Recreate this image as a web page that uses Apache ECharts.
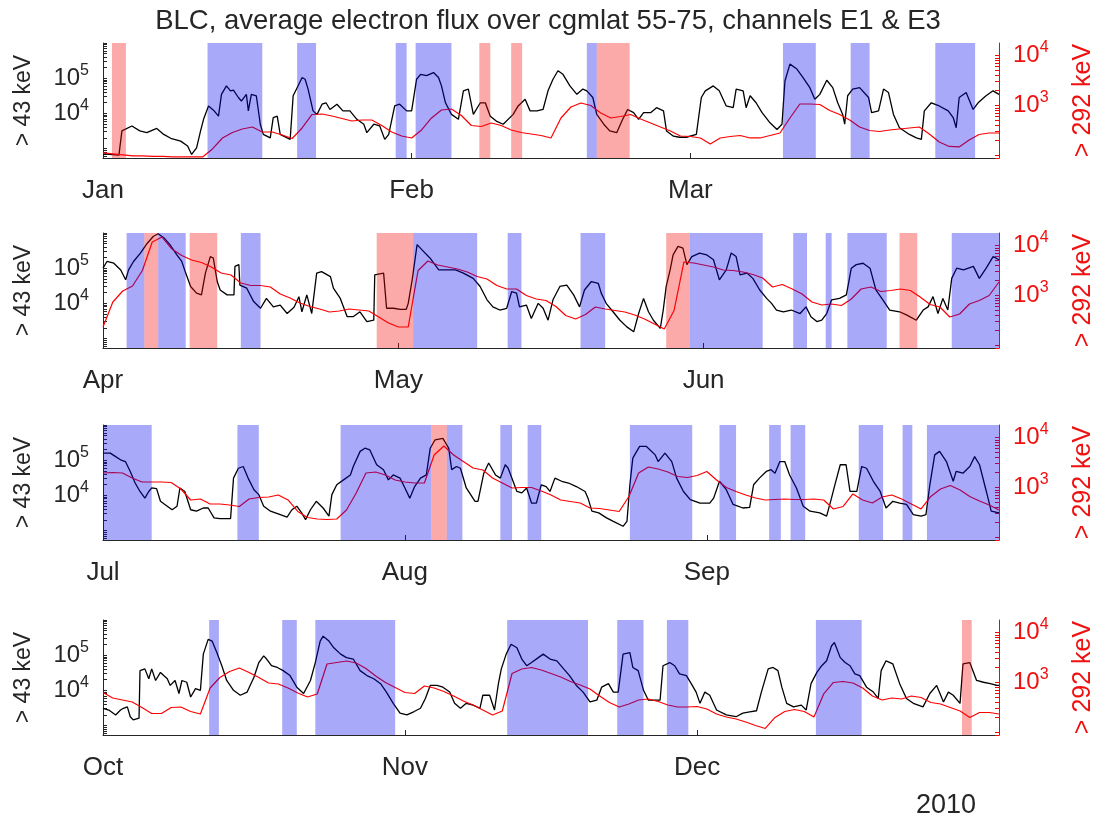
<!DOCTYPE html>
<html>
<head>
<meta charset="utf-8">
<script src="https://cdn.jsdelivr.net/npm/echarts@6/dist/echarts.min.js"></script>
<style>
html, body { margin: 0; padding: 0; background: #fff; }
#chart { width: 1096px; height: 820px; }
</style>
</head>
<body>
<div id="chart"></div>
<script>
// months (day of year 2010, Jan 1 = 0)
var monthNames = ['Jan', 'Feb', 'Mar', 'Apr', 'May', 'Jun', 'Jul', 'Aug', 'Sep', 'Oct', 'Nov', 'Dec'];
var monthStarts = [0, 31, 59, 90, 120, 151, 181, 212, 243, 273, 304, 334];
var quarterStarts = [0, 90, 181, 273];
var quarterEnds = [90, 181, 273, 365];

// E1 (> 43 keV, black, left axis): [day from quarter start, log10 flux]
var q1E1 = [[0, 2.85], [1.6, 2.81], [1.9, 3.50], [2.9, 3.64], [3.7, 3.50], [4.4, 3.45], [5.4, 3.57], [6.1, 3.40], [6.8, 3.29],
  [7.8, 3.21], [8.5, 3.07], [8.9, 2.83], [9.4, 3.02], [9.8, 3.50], [10.1, 3.83], [10.6, 4.21], [11.1, 4.09], [11.6, 3.92],
  [11.9, 4.54], [12.4, 4.78], [12.8, 4.64], [13.1, 4.66], [13.6, 4.45], [13.9, 4.35], [14.4, 4.54], [14.6, 4.07], [14.9, 4.54],
  [15.4, 4.50], [15.8, 3.69], [16.1, 3.40], [16.8, 3.30], [17.1, 3.88], [17.5, 3.92], [17.8, 3.40], [18.5, 3.30], [18.8, 3.26],
  [19.1, 4.50], [19.5, 4.73], [20.0, 5.02], [20.3, 4.97], [20.6, 4.69], [21.1, 4.07], [21.5, 3.97], [22.0, 4.26], [22.4, 4.30],
  [22.8, 4.11], [23.5, 4.26], [24.1, 4.07], [24.8, 4.07], [25.5, 3.83], [26.2, 3.69], [26.5, 3.45], [27.2, 3.69], [27.8, 3.64],
  [28.3, 3.26], [28.7, 3.40], [29.3, 4.21], [29.8, 4.26], [30.5, 4.07], [31.0, 4.07], [31.5, 4.97], [31.9, 5.11], [32.5, 5.07],
  [33.2, 5.16], [33.7, 5.02], [34.0, 4.78], [34.4, 4.30], [35.0, 3.97], [35.7, 3.83], [36.2, 4.64], [36.7, 4.69], [37.2, 3.97],
  [37.9, 4.30], [38.4, 4.30], [38.9, 3.92], [39.5, 3.78], [40.2, 3.69], [41.2, 3.97], [41.7, 4.21], [42.4, 4.40], [42.9, 4.07],
  [43.6, 4.07], [44.2, 4.11], [44.7, 4.64], [45.2, 4.97], [45.7, 5.21], [46.2, 5.11], [46.9, 4.78], [47.6, 4.54], [48.2, 4.69],
  [48.6, 4.64], [49.2, 4.45], [49.6, 3.97], [50.3, 3.69], [50.9, 3.50], [51.6, 3.45], [52.2, 3.83], [52.7, 4.11], [53.3, 4.02],
  [53.8, 3.83], [54.3, 4.02], [55.0, 4.02], [55.6, 4.16], [56.3, 4.07], [56.6, 3.50], [57.3, 3.35], [57.9, 3.32], [58.6, 3.32],
  [59.6, 3.40], [60.1, 4.45], [60.5, 4.64], [61.3, 4.78], [61.9, 4.64], [62.6, 4.21], [63.3, 4.16], [63.6, 4.69], [64.3, 4.64],
  [64.6, 4.16], [65.0, 4.50], [65.6, 4.30], [66.2, 4.02], [67.0, 3.73], [67.7, 3.54], [68.2, 3.69], [68.5, 4.92], [69.0, 5.40],
  [69.7, 5.26], [70.3, 5.02], [71.0, 4.73], [71.5, 4.40], [72.0, 4.54], [72.7, 4.94], [73.3, 4.73], [73.8, 4.30], [74.3, 3.97],
  [74.5, 3.69], [74.8, 4.50], [75.3, 4.69], [76.0, 4.73], [76.9, 4.45], [77.2, 4.02], [77.9, 4.07], [78.4, 4.69], [78.9, 4.59],
  [79.4, 3.97], [80.0, 3.59], [81.0, 3.40], [81.7, 3.30], [82.2, 3.26], [82.5, 4.07], [83.2, 4.30], [84.0, 4.21], [84.9, 4.07],
  [85.4, 3.88], [85.7, 3.59], [86.0, 4.45], [86.7, 4.59], [87.4, 4.11], [87.9, 4.30], [88.7, 4.50], [89.4, 4.64], [90.0, 4.54]];
var q2E1 = [[0, 5.00], [0.4, 5.19], [1.1, 5.14], [1.8, 4.95], [2.3, 4.67], [2.6, 4.95], [3.1, 5.19], [3.8, 5.43], [4.5, 5.71],
  [5.1, 5.90], [5.6, 5.98], [6.2, 5.86], [6.8, 5.67], [7.5, 5.38], [8.0, 5.19], [8.4, 4.86], [8.9, 4.48], [9.5, 4.29],
  [10.0, 4.24], [10.4, 4.86], [10.9, 5.33], [11.2, 5.29], [11.6, 4.62], [11.9, 4.38], [12.6, 4.24], [13.3, 4.24], [13.4, 5.05],
  [13.8, 5.10], [13.9, 4.52], [14.6, 4.43], [15.3, 4.05], [16.0, 3.86], [16.6, 4.14], [17.3, 3.90], [18.0, 3.95], [18.7, 3.71],
  [19.4, 3.89], [19.9, 4.19], [20.2, 3.76], [20.7, 4.24], [21.2, 3.71], [21.7, 4.86], [22.2, 4.90], [23.1, 4.76], [23.4, 4.43],
  [24.1, 4.14], [24.8, 3.62], [25.4, 3.62], [26.1, 3.76], [26.8, 3.48], [27.5, 3.52], [27.6, 4.81], [28.5, 4.86], [28.8, 3.86],
  [29.5, 3.86], [30.2, 3.83], [30.8, 3.83], [31.0, 4.00], [31.4, 4.67], [31.9, 5.67], [32.4, 5.52], [33.2, 5.29], [34.1, 4.95],
  [34.9, 4.95], [35.8, 4.95], [36.6, 4.86], [37.6, 4.71], [38.3, 4.48], [39.0, 4.10], [39.6, 3.90], [40.3, 3.81], [41.0, 3.86],
  [41.5, 4.33], [42.0, 4.29], [42.3, 3.90], [43.0, 3.95], [43.5, 3.57], [44.2, 4.00], [44.7, 3.86], [45.2, 3.52], [45.7, 4.10],
  [46.4, 4.48], [47.1, 4.52], [47.8, 4.24], [48.4, 3.90], [48.9, 4.38], [49.6, 4.62], [50.3, 4.57], [50.6, 4.29], [51.1, 4.00],
  [51.8, 3.76], [52.5, 3.52], [53.2, 3.33], [53.9, 3.19], [54.4, 3.71], [54.9, 4.14], [55.4, 3.76], [55.9, 3.52], [56.6, 3.29],
  [56.9, 3.81], [57.2, 4.48], [57.6, 4.95], [57.9, 5.38], [58.4, 5.62], [58.9, 5.57], [59.3, 5.10], [59.8, 5.33], [60.6, 5.43],
  [61.3, 5.38], [62.0, 5.24], [62.6, 4.67], [63.3, 4.95], [63.8, 5.43], [64.3, 5.33], [64.7, 4.81], [65.4, 4.86], [66.0, 4.71],
  [66.7, 4.38], [67.4, 4.14], [67.9, 4.00], [68.4, 3.81], [69.1, 3.76], [69.9, 3.81], [70.8, 3.71], [71.4, 3.90], [71.9, 3.62],
  [72.5, 3.48], [73.0, 3.52], [73.5, 3.71], [74.0, 4.10], [74.8, 4.14], [75.5, 4.24], [76.0, 5.00], [76.5, 5.10], [77.2, 5.14],
  [77.9, 5.00], [78.5, 4.38], [79.2, 4.10], [79.9, 3.81], [80.9, 3.76], [81.6, 3.67], [82.6, 3.52], [83.3, 3.81], [83.8, 3.90],
  [84.3, 4.19], [84.8, 3.71], [85.3, 4.14], [85.8, 3.81], [86.2, 4.71], [86.7, 5.00], [87.4, 4.95], [88.4, 5.05], [89.0, 4.71],
  [89.7, 5.00], [90.4, 5.33], [91.0, 5.24]];
var q3E1 = [[0, 5.20], [0.75, 5.20], [1.3, 5.10], [1.8, 5.01], [2.3, 4.96], [2.8, 4.68], [3.3, 4.35], [3.8, 4.11], [4.3, 3.92],
  [4.7, 4.11], [5.0, 4.21], [5.5, 4.19], [5.9, 3.83], [6.6, 3.69], [7.1, 3.59], [7.6, 3.69], [7.9, 4.21], [8.4, 4.11],
  [9.0, 3.59], [9.6, 3.55], [10.3, 3.64], [10.8, 3.64], [11.4, 3.36], [12.0, 3.34], [13.1, 3.34], [13.4, 4.49], [13.9, 4.77],
  [14.4, 4.82], [14.9, 4.49], [15.5, 4.16], [16.0, 4.02], [16.5, 3.69], [17.2, 3.55], [18.2, 3.45], [18.9, 3.38], [19.4, 3.59],
  [19.9, 3.69], [20.4, 3.50], [20.8, 3.31], [21.3, 3.59], [21.9, 3.83], [22.6, 3.64], [23.2, 3.41], [23.5, 4.02], [24.0, 4.30],
  [24.7, 4.44], [25.4, 4.58], [25.7, 4.82], [26.4, 5.25], [26.9, 5.34], [27.4, 5.29], [28.1, 4.87], [28.8, 4.73], [29.3, 4.44],
  [29.8, 4.58], [30.5, 4.49], [31.0, 4.21], [31.5, 3.92], [32.0, 4.25], [32.6, 4.49], [33.2, 4.58], [33.6, 5.34], [34.1, 5.58],
  [34.9, 5.62], [35.5, 5.34], [35.8, 4.73], [36.3, 4.82], [36.7, 4.77], [37.3, 4.21], [38.2, 3.83], [38.5, 3.83], [39.1, 4.63],
  [39.6, 4.92], [40.3, 4.58], [40.8, 4.49], [41.3, 4.87], [41.6, 4.77], [42.5, 4.11], [43.0, 4.07], [43.5, 4.21], [44.0, 3.78],
  [44.5, 3.78], [45.0, 4.30], [45.5, 4.25], [45.9, 4.11], [46.4, 4.49], [47.1, 4.40], [47.8, 4.35], [48.6, 4.25], [49.5, 4.11],
  [49.8, 3.92], [50.2, 3.55], [50.9, 3.50], [51.7, 3.36], [52.4, 3.26], [53.4, 3.12], [53.8, 3.26], [54.1, 4.30], [54.4, 5.06],
  [55.1, 5.39], [55.8, 5.39], [56.7, 5.15], [57.0, 4.96], [57.7, 5.20], [58.4, 4.96], [58.9, 4.49], [59.6, 4.11], [60.3, 3.88],
  [61.3, 3.78], [62.3, 3.78], [62.7, 3.92], [63.3, 4.40], [64.0, 4.16], [64.7, 3.74], [65.7, 3.64], [66.4, 3.66], [66.8, 4.30],
  [67.4, 4.49], [68.1, 4.68], [68.6, 4.73], [69.0, 4.63], [69.5, 4.96], [70.0, 4.96], [70.5, 4.58], [71.2, 4.21], [71.9, 3.69],
  [72.6, 3.55], [73.6, 3.50], [74.3, 3.41], [74.8, 3.92], [75.1, 4.25], [75.7, 4.87], [76.3, 4.87], [76.7, 4.11], [77.4, 4.11],
  [77.9, 4.82], [78.4, 4.77], [79.1, 4.40], [79.8, 4.11], [80.4, 3.64], [81.1, 3.83], [81.8, 3.78], [82.5, 3.74], [83.2, 3.45],
  [84.0, 3.41], [84.5, 3.45], [84.9, 4.30], [85.4, 5.15], [85.9, 5.25], [86.6, 4.96], [87.3, 4.40], [87.6, 4.68], [88.3, 4.63],
  [89.0, 4.82], [89.5, 5.10], [90.0, 4.87], [90.7, 4.11], [91.2, 3.55], [92.0, 3.50]];
var q4E1 = [[0, 3.49], [0.6, 3.44], [1.3, 3.30], [1.8, 3.44], [2.1, 3.49], [2.5, 3.53], [2.8, 3.25], [3.1, 3.16], [3.7, 3.21],
  [3.8, 4.56], [4.3, 4.61], [4.7, 4.33], [5.0, 4.61], [5.4, 4.28], [5.9, 4.51], [6.6, 4.33], [6.9, 4.14], [7.4, 4.28],
  [7.8, 3.91], [8.1, 4.28], [8.6, 4.23], [9.0, 3.81], [9.5, 4.05], [10.0, 4.00], [10.3, 5.03], [10.8, 5.45], [11.2, 5.40],
  [11.7, 5.07], [12.2, 4.70], [12.7, 4.28], [13.4, 4.00], [14.1, 3.86], [14.8, 3.95], [15.5, 4.37], [16.0, 4.79], [16.5, 4.98],
  [16.8, 4.89], [17.3, 4.70], [17.9, 4.65], [18.5, 4.56], [19.2, 4.42], [19.9, 4.09], [20.6, 3.91], [21.3, 4.28], [21.8, 4.79],
  [22.3, 5.40], [22.6, 5.54], [23.2, 5.40], [23.7, 5.21], [24.4, 5.03], [25.0, 4.93], [25.7, 4.89], [26.4, 4.56], [27.1, 4.42],
  [27.8, 4.33], [28.5, 4.19], [29.1, 3.95], [29.8, 3.63], [30.5, 3.35], [31.2, 3.30], [31.9, 3.39], [32.6, 3.49], [33.1, 3.77],
  [33.6, 4.14], [34.3, 4.14], [34.9, 4.09], [35.6, 3.95], [36.1, 3.63], [36.7, 3.49], [37.3, 3.63], [38.0, 3.58], [38.7, 3.49],
  [39.0, 3.86], [39.7, 3.86], [40.2, 3.44], [40.6, 4.19], [40.9, 4.61], [41.4, 5.03], [41.9, 5.31], [42.5, 5.21], [43.0, 4.89],
  [43.5, 4.70], [44.0, 4.79], [44.7, 4.93], [45.2, 5.03], [45.9, 4.89], [46.6, 4.84], [47.3, 4.61], [47.9, 4.42], [48.6, 4.14],
  [49.3, 3.95], [50.0, 3.67], [50.7, 3.72], [51.2, 4.09], [51.9, 4.19], [52.4, 3.95], [52.9, 3.95], [53.4, 5.03], [54.1, 5.07],
  [54.4, 4.65], [54.95, 4.56], [55.5, 4.00], [56.0, 3.72], [56.5, 3.72], [57.2, 3.72], [57.5, 4.70], [58.2, 4.79], [58.7, 4.70],
  [59.2, 4.47], [59.9, 4.42], [60.4, 4.19], [60.9, 3.95], [61.3, 3.63], [61.8, 3.95], [62.3, 3.86], [63.0, 3.44], [64.0, 3.30],
  [65.0, 3.25], [65.7, 3.35], [66.4, 3.39], [67.1, 3.42], [67.6, 3.95], [68.3, 4.61], [68.8, 4.65], [69.3, 4.56], [69.7, 4.09],
  [70.2, 3.63], [70.9, 3.53], [71.7, 3.58], [72.2, 3.44], [72.7, 4.19], [73.3, 4.51], [73.8, 4.70], [74.3, 4.84], [74.8, 5.26],
  [75.1, 5.36], [75.7, 4.93], [76.2, 4.79], [76.7, 4.70], [77.2, 4.47], [77.7, 4.42], [78.4, 4.09], [79.1, 3.95], [79.6, 3.77],
  [79.9, 4.56], [80.4, 4.84], [81.1, 4.75], [81.8, 4.19], [82.5, 3.77], [83.2, 3.63], [84.2, 3.53], [84.9, 3.91], [85.6, 4.14],
  [86.3, 3.67], [86.8, 3.95], [87.3, 3.86], [88.0, 3.63], [88.3, 4.75], [89.0, 4.79], [89.7, 4.28], [90.4, 4.23], [91.1, 4.19],
  [91.8, 4.14], [92.0, 4.14]];

// E3 (> 292 keV, red, right axis): log10 flux, one value per day from the quarter start
var q1E3 = [2.05, 2.03, 2.01, 1.99, 1.99, 1.98, 1.98, 1.97, 1.97, 1.97,
  1.97, 2.13, 2.35, 2.46, 2.53, 2.57, 2.47, 2.47, 2.41, 2.34,
  2.55, 2.82, 2.83, 2.79, 2.74, 2.69, 2.71, 2.71, 2.60, 2.47,
  2.39, 2.35, 2.51, 2.75, 2.91, 2.93, 2.80, 2.60, 2.58, 2.65,
  2.60, 2.51, 2.46, 2.43, 2.40, 2.35, 2.75, 2.97, 3.05, 3.00,
  2.85, 2.75, 2.78, 2.82, 2.73, 2.65, 2.57, 2.49, 2.39, 2.38,
  2.35, 2.23, 2.35, 2.38, 2.40, 2.35, 2.35, 2.40, 2.45, 2.75,
  3.03, 3.03, 3.02, 2.90, 2.82, 2.71, 2.57, 2.50, 2.48, 2.51,
  2.53, 2.55, 2.57, 2.43, 2.27, 2.18, 2.17, 2.31, 2.42, 2.45,
  2.45];
var q2E3 = [2.37, 2.87, 3.09, 3.19, 3.50, 4.07, 4.17, 3.93, 3.80, 3.71,
  3.66, 3.57, 3.45, 3.41, 3.25, 3.20, 3.20, 3.17, 3.03, 2.95,
  2.85, 2.78, 2.73, 2.67, 2.69, 2.73, 2.71, 2.69, 2.57, 2.45,
  2.37, 2.37, 3.50, 3.69, 3.61, 3.57, 3.53, 3.47, 3.38, 3.33,
  3.20, 3.13, 3.13, 3.00, 2.93, 2.90, 2.78, 2.60, 2.53, 2.62,
  2.77, 2.73, 2.70, 2.67, 2.61, 2.53, 2.43, 2.33, 2.70, 3.67,
  3.65, 3.61, 3.57, 3.51, 3.50, 3.47, 3.42, 3.35, 3.17, 3.22,
  3.13, 3.03, 2.87, 2.81, 2.83, 2.80, 2.93, 3.13, 3.17, 3.08,
  3.10, 3.13, 3.10, 2.97, 2.82, 2.77, 2.57, 2.63, 2.83, 2.90,
  3.00, 3.27];
var q3E3 = [3.29, 3.30, 3.29, 3.19, 3.11, 3.11, 3.11, 3.10, 2.97, 2.75,
  2.77, 2.67, 2.67, 2.65, 2.62, 2.77, 2.80, 2.81, 2.85, 2.75,
  2.52, 2.40, 2.37, 2.36, 2.37, 2.55, 2.89, 3.29, 3.31, 3.25,
  3.15, 3.11, 3.09, 3.09, 3.65, 3.83, 3.65, 3.52, 3.39, 3.35,
  3.19, 3.09, 2.99, 3.00, 3.00, 2.93, 2.85, 2.75, 2.72, 2.69,
  2.59, 2.58, 2.55, 2.52, 2.82, 3.29, 3.41, 3.37, 3.31, 3.22,
  3.20, 3.24, 3.32, 3.15, 3.00, 2.92, 2.85, 2.79, 2.75, 2.76,
  2.77, 2.76, 2.76, 2.77, 2.75, 2.57, 2.62, 2.87, 2.75, 2.69,
  2.81, 2.85, 2.77, 2.67, 2.57, 2.82, 2.97, 3.04, 2.95, 2.82,
  2.73, 2.65, 2.55];
var q4E3 = [2.80, 2.69, 2.65, 2.61, 2.50, 2.38, 2.38, 2.50, 2.51, 2.42,
  2.37, 2.89, 3.10, 3.22, 3.29, 3.20, 3.10, 2.99, 2.97, 2.89,
  2.79, 2.71, 2.77, 3.37, 3.40, 3.43, 3.39, 3.28, 3.13, 3.00,
  2.90, 2.80, 2.78, 2.93, 2.89, 2.82, 2.73, 2.63, 2.55, 2.45,
  2.35, 2.43, 3.18, 3.27, 3.30, 3.25, 3.18, 3.11, 3.02, 2.95,
  2.87, 2.73, 2.60, 2.51, 2.57, 2.65, 2.67, 2.62, 2.55, 2.51,
  2.51, 2.52, 2.47, 2.37, 2.31, 2.27, 2.21, 2.14, 2.08, 2.30,
  2.42, 2.46, 2.42, 2.31, 2.77, 3.00, 3.02, 2.99, 2.89, 2.73,
  2.65, 2.69, 2.67, 2.73, 2.70, 2.60, 2.57, 2.50, 2.43, 2.30,
  2.40, 2.40, 2.37];

// shaded intervals [start day, end day]
var blueBands = [[10.5, 16.0], [19.5, 21.4], [29.4, 30.5], [31.4, 35.0], [48.6, 49.6], [68.3, 71.6], [75.1, 77.0], [83.6, 87.6],
  [92.4, 94.2], [95.6, 98.4], [104.0, 106.0], [121.5, 128.0], [131.1, 132.5], [138.5, 141.0], [149.6, 157.0], [160.1, 161.5], [163.4, 164.0], [165.6, 169.6], [176.2, 181],
  [181, 186.0], [194.8, 197.0], [205.4, 214.7], [216.3, 217.9], [221.8, 223.0], [224.6, 226.0], [235.1, 241.5], [244.3, 246.0], [249.4, 250.6], [251.6, 253.1], [258.6, 261.1], [263.1, 264.1], [265.6, 273],
  [283.9, 284.9], [291.4, 292.9], [294.8, 303.0], [314.5, 322.8], [325.8, 328.5], [330.9, 333.1], [346.2, 350.9]];
var redBands = [[0.9, 2.3], [37.8, 38.9], [41.0, 42.1], [49.6, 52.9], [94.2, 95.6], [98.8, 101.6], [117.8, 121.5],
  [147.2, 149.6], [170.9, 172.7], [214.7, 216.3], [361.2, 362.2]];

var leftTicks = [600, 700, 800, 900, 1e3, 2e3, 3e3, 4e3, 5e3, 6e3, 7e3, 8e3, 9e3, 1e4, 2e4, 3e4, 4e4, 5e4, 6e4, 7e4, 8e4, 9e4,
  1e5, 2e5, 3e5, 4e5, 5e5, 6e5, 7e5, 8e5, 9e5, 1e6];
var rightTicks = [90, 100, 200, 300, 400, 500, 600, 700, 800, 900, 1e3, 2e3, 3e3, 4e3, 5e3, 6e3, 7e3, 8e3, 9e3, 1e4];
var leftLabels = [1e4, 1e5];
var rightLabels = [1e3, 1e4];

var E1 = [q1E1, q2E1, q3E1, q4E1];
var E3 = [q1E3, q2E3, q3E3, q4E3];
var gridTops = [43, 233, 425, 620];
var FONT = 'Liberation Sans, Arial, Helvetica, sans-serif';
var BLUE = 'rgba(10,10,240,0.35)';
var RED = 'rgba(245,10,10,0.35)';

function powLabel(v) {
  return '10{s|' + Math.round(Math.log10(v)) + '}';
}

function bandsIn(p) {
  var out = [];
  var a = quarterStarts[p], b = quarterEnds[p];
  function add(list, color) {
    list.forEach(function (r) {
      if (r[1] <= a || r[0] >= b) return;
      out.push([{ xAxis: Math.max(r[0], a), itemStyle: { color: color } }, { xAxis: Math.min(r[1], b) }]);
    });
  }
  add(blueBands, BLUE);
  add(redBands, RED);
  return out;
}

var myChart = echarts.init(document.getElementById('chart'));
var grids = [], xAxes = [], yAxes = [], series = [];

for (var p = 0; p < 4; p++) {
  var st = quarterStarts[p];
  var ms = monthStarts.filter(function (m) { return m >= quarterStarts[p] && m < quarterEnds[p]; });
  grids.push({ left: 103, right: 97, top: gridTops[p], height: 115, outerBoundsMode: 'none', containLabel: false });

  xAxes.push({
    type: 'value', gridIndex: p, min: quarterStarts[p], max: quarterEnds[p],
    axisLine: { lineStyle: { color: '#262626', width: 1 } },
    splitLine: { show: false },
    axisTick: { inside: true, length: 5, customValues: ms, lineStyle: { color: '#262626' } },
    axisLabel: {
      customValues: ms, margin: 20, fontSize: 26, color: '#262626', fontFamily: FONT,
      formatter: function (v) { return monthNames[monthStarts.indexOf(v)]; }
    }
  });

  yAxes.push({
    type: 'log', gridIndex: p, position: 'left', min: 537, max: 1e6,
    name: '> 43 keV', nameLocation: 'middle', nameRotate: 90, nameGap: 68,
    nameTextStyle: { fontSize: 23, color: '#262626', fontFamily: FONT },
    axisLine: { show: true, lineStyle: { color: '#262626' } },
    splitLine: { show: false },
    axisTick: { inside: true, length: 4, customValues: leftTicks, lineStyle: { color: '#262626' } },
    axisLabel: {
      customValues: leftLabels, margin: 14, fontSize: 24, color: '#262626', fontFamily: FONT,
      formatter: powLabel,
      rich: { s: { fontSize: 16, padding: [0, 0, 16, 0], color: '#262626', fontFamily: FONT } }
    }
  });
  yAxes.push({
    type: 'log', gridIndex: p, position: 'right', min: 89, max: 17783,
    name: '> 292 keV', nameLocation: 'middle', nameRotate: 90, nameGap: 72,
    nameTextStyle: { fontSize: 25, color: '#f01010', fontFamily: FONT },
    axisLine: { show: true, lineStyle: { color: '#f00' } },
    splitLine: { show: false },
    axisTick: { inside: true, length: 4, customValues: rightTicks, lineStyle: { color: '#f00' } },
    axisLabel: {
      customValues: rightLabels, margin: 14, fontSize: 24, color: '#f01010', fontFamily: FONT,
      formatter: powLabel,
      rich: { s: { fontSize: 16, padding: [0, 0, 16, 0], color: '#f01010', fontFamily: FONT } }
    }
  });

  series.push({
    name: '> 43 keV', type: 'line', xAxisIndex: p, yAxisIndex: 2 * p,
    showSymbol: false, z: 2,
    lineStyle: { color: '#000', width: 1.3 },
    data: E1[p].map(function (d) { return [st + d[0], Math.pow(10, d[1])]; }),
    markArea: { silent: true, z: 5, data: bandsIn(p) }
  });
  series.push({
    name: '> 292 keV', type: 'line', xAxisIndex: p, yAxisIndex: 2 * p + 1,
    showSymbol: false, z: 2,
    lineStyle: { color: '#f00', width: 1.2 },
    data: E3[p].map(function (v, i) { return [st + i, Math.pow(10, v)]; })
  });
}

var option = {
  animation: false,
  backgroundColor: '#fff',
  title: {
    text: 'BLC, average electron flux over cgmlat 55-75, channels E1 & E3',
    left: 'center', top: 2,
    textStyle: { fontSize: 27.5, fontWeight: 'normal', color: '#262626', fontFamily: FONT }
  },
  graphic: [{
    type: 'text', left: 916, top: 792,
    style: { text: '2010', fontSize: 27, fill: '#262626', fontFamily: FONT }
  }],
  grid: grids,
  xAxis: xAxes,
  yAxis: yAxes,
  series: series
};

myChart.setOption(option);
</script>
</body>
</html>
